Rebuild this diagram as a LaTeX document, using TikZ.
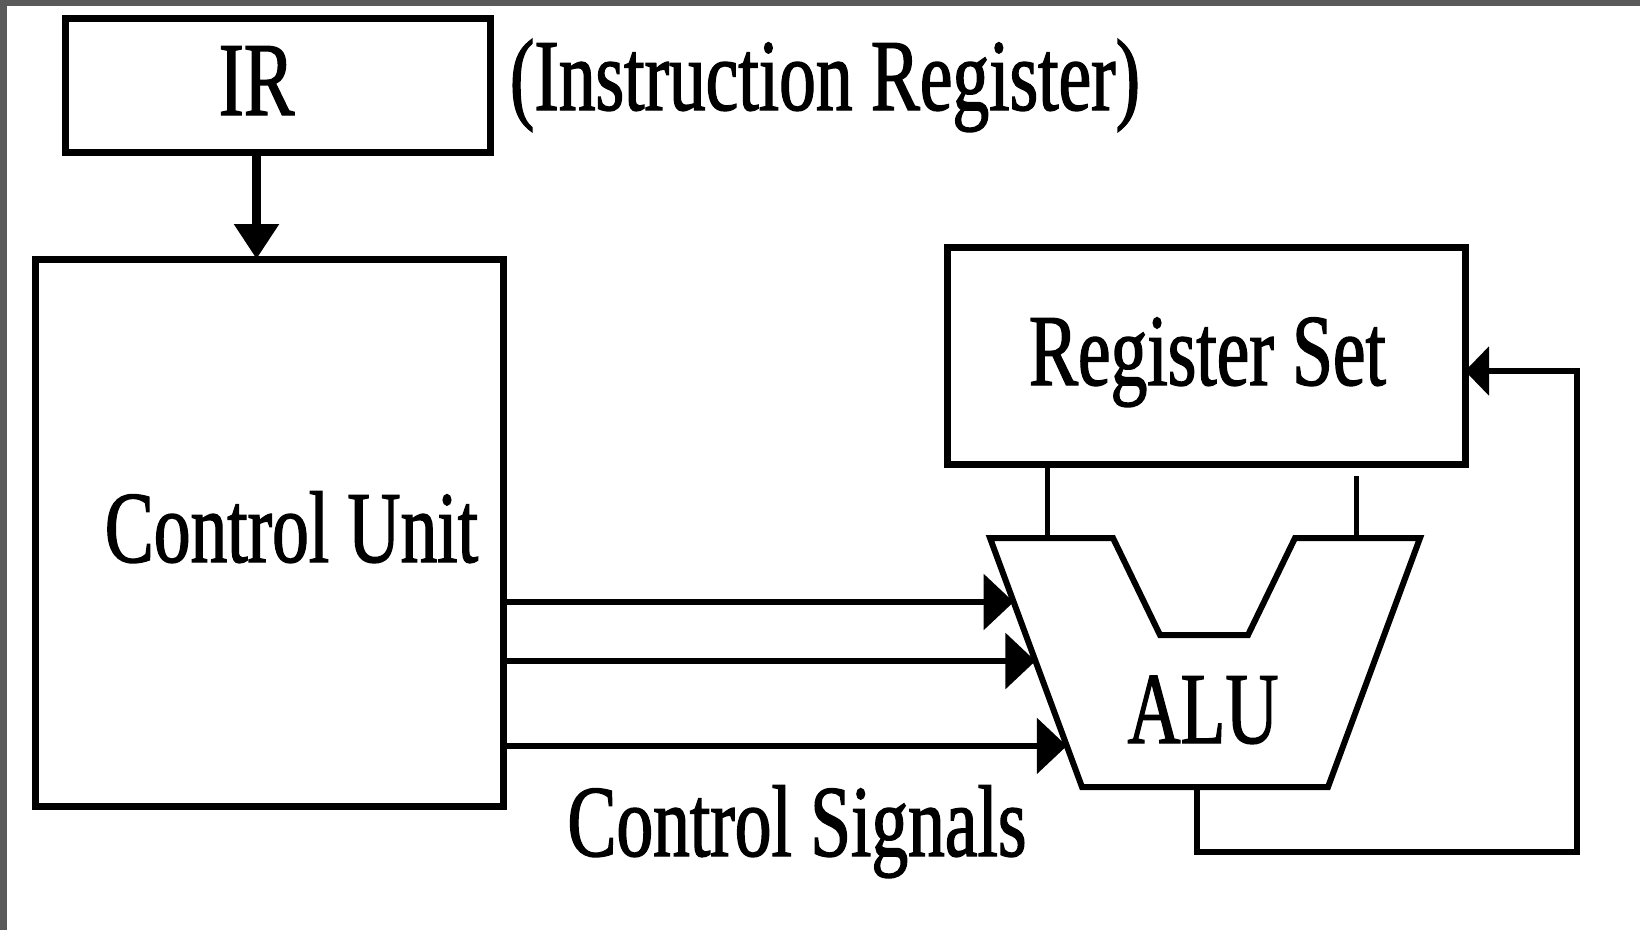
\documentclass[tikz,border=0pt]{standalone}
\usepackage{fontspec}
\newfontfamily\lblfont{Liberation Serif}[FakeStretch=0.72,FakeBold=1.3]
\usetikzlibrary{arrows.meta,calc}
\definecolor{framegray}{HTML}{5A5A5A}
\begin{document}
\begin{tikzpicture}[x=1pt,y=-1pt,
  box/.style={draw, line width=7pt, inner sep=0pt, outer sep=0pt, anchor=north west},
  lbl/.style={inner sep=0pt, anchor=base, font=\lblfont\fontsize{102}{110}\selectfont},
  irarrow/.style={line width=9pt, -{Triangle[length=35pt,width=43pt]}},
  sig/.style={line width=6pt, -{Triangle[length=30pt,width=55pt]}},
  alushape/.style={draw, line width=6pt, line join=miter},
  bus/.style={line width=5pt},
  fbk/.style={line width=6pt, -{Triangle[length=24pt,width=48pt]}}]
\useasboundingbox (0,0) rectangle (1640,930);
\fill[white] (0,0) rectangle (1640,930);
\fill[framegray] (0,0) rectangle (1640,6);
\fill[framegray] (0,0) rectangle (7,930);

% boxes
\node[box, minimum width=425pt, minimum height=134pt] (ir) at (65,18) {};
\node[box, minimum width=468pt, minimum height=547pt] (cu) at (35,259) {};
\node[box, minimum width=518pt, minimum height=217pt] (rs) at (947,247) {};

% labels
\node[lbl, font=\lblfont\fontsize{105}{110}\selectfont] (irt) at (256.5,115) {IR};
\node[lbl] (irlong) at (825,110) {(Instruction Register)};
\node[lbl] (cut) at (291.5,562) {Control Unit};
\node[lbl] (rst) at (1207.5,385) {Register Set};
\node[lbl] (alut) at (1203,743) {ALU};
\node[lbl] (cst) at (797,856) {Control Signals};

% ALU outline
\coordinate (a1) at (990,538);
\coordinate (a2) at (1113,538);
\coordinate (a3) at (1160,635);
\coordinate (a4) at (1248,635);
\coordinate (a5) at (1295,538);
\coordinate (a6) at (1420,538);
\coordinate (a7) at (1328,787);
\coordinate (a8) at (1082,787);
\draw[alushape] (a1) -- (a2) -- (a3) -- (a4) -- (a5) -- (a6) -- (a7) -- (a8) -- cycle;

% IR -> Control Unit
\draw[irarrow] (ir.south -| irt.base) -- (cu.north -| irt.base);

% control signals
\coordinate (s1) at ($(a1)!0.257!(a8)$);
\coordinate (s2) at ($(a1)!0.494!(a8)$);
\coordinate (s3) at ($(a1)!0.835!(a8)$);
\draw[sig] (cu.east |- s1) -- (s1);
\draw[sig] (cu.east |- s2) -- (s2);
\draw[sig] (cu.east |- s3) -- (s3);

% register set -> ALU inputs
\coordinate (p1) at (1047,538);
\coordinate (p2) at (1356,538);
\draw[bus] (p1 |- rs.south) -- (p1);
\draw[bus] ($(p2)+(0,-62)$) -- (p2);

% feedback ALU -> register set
\coordinate (ob) at (1197,787);
\coordinate (fb) at (1577,852);
\coordinate (rsin) at (1465,371);
\draw[fbk, line join=miter] (ob) |- (fb) |- (rsin);
\end{tikzpicture}
\end{document}
